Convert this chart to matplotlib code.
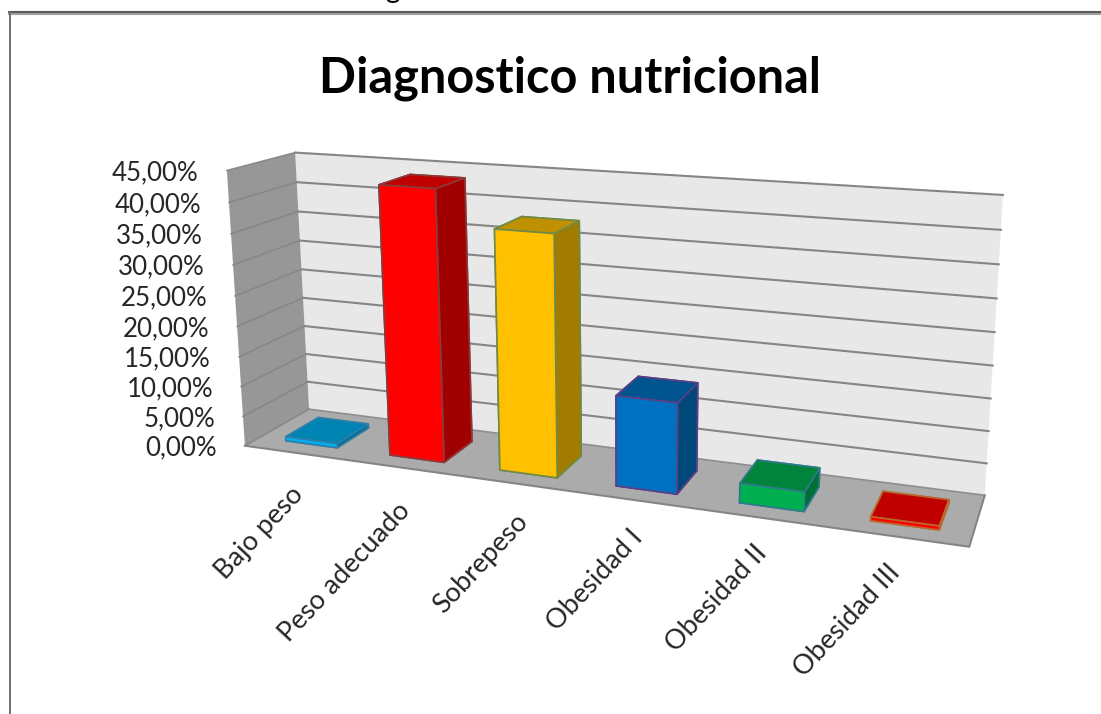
import numpy as np
import matplotlib
matplotlib.use("Agg")
import matplotlib.pyplot as plt
from matplotlib.lines import Line2D
from mpl_toolkits.mplot3d.art3d import Poly3DCollection

W, H = 1101, 714

categories = ["Bajo peso", "Peso adecuado", "Sobrepeso", "Obesidad I", "Obesidad II", "Obesidad III"]
values = [0.7, 43.5, 38.0, 14.2, 3.0, 0.6]
ticks = [0, 5, 10, 15, 20, 25, 30, 35, 40, 45]
tick_labels = ["0,00%", "5,00%", "10,00%", "15,00%", "20,00%", "25,00%", "30,00%", "35,00%", "40,00%", "45,00%"]

front_colors = ["#00B0F0", "#FF0000", "#FFC000", "#0070C0", "#00B050", "#FF0000"]
top_colors = ["#0084B4", "#C00000", "#BF9000", "#005490", "#00843C", "#C00000"]
side_colors = ["#006F97", "#A00000", "#A17C00", "#00477A", "#006F32", "#A00000"]
edge_colors = ["#2F7FA8", "#8A3A3A", "#6F8A45", "#5B3F86", "#2F7A8A", "#B8692E"]

# nudges for the slanted category labels
label_dx = [-6, -6, -1, -6, -9, -11]
label_dy = [-29, -30, -25, -25, -22, -23]

plt.rcParams["font.family"] = ["Lato", "DejaVu Sans"]

# box corners (category, depth, value) and where they land on the canvas
box_pts = np.array([[0, 0, 0], [6, 0, 0], [6, 1, 0], [0, 1, 0], [0, 0, 45], [0, 1, 45], [6, 1, 45]], float)
px_pts = np.array([[245, 446], [969, 547], [985, 495], [309, 409], [227, 170], [295, 153], [1003, 195]], float)


def fit_camera(pts, px):
    rows = []
    for (x, y, z), (u, v) in zip(pts, px):
        v = H - v
        rows.append([x, y, z, 1, 0, 0, 0, 0, -u * x, -u * y, -u * z, -u])
        rows.append([0, 0, 0, 0, x, y, z, 1, -v * x, -v * y, -v * z, -v])
    cam = np.linalg.svd(np.array(rows))[2][-1].reshape(3, 4)
    return cam / (cam[2] @ [3, 0.5, 22, 1])


CAM = fit_camera(box_pts, px_pts)


def project(x, y, z):
    p = CAM @ [x, y, z, 1]
    return p[0] / p[2], p[1] / p[2]


fig = plt.figure(figsize=(W / 100, H / 100), dpi=100)
side = W / H
ax = fig.add_axes([0, (1 - side) / 2, 1, side], projection="3d")
ax.set_proj_type("ortho")
ax.set_axis_off()
ax.computed_zorder = False
ax.patch.set_alpha(0)


def get_proj():
    inv = ax.transData.inverted()
    o = inv.transform((0, 0))
    e = inv.transform((1, 1))
    sx, sy = e - o
    M = np.zeros((4, 4))
    M[0] = sx * CAM[0] + o[0] * CAM[2]
    M[1] = sy * CAM[1] + o[1] * CAM[2]
    M[2] = [-0.1, 1, -0.01, 2]
    M[3] = CAM[2]
    return M


ax.get_proj = get_proj

# walls and floor
back = [[(0, 1, 0), (6, 1, 0), (6, 1, 45), (0, 1, 45)]]
left = [[(0, 0, 0), (0, 1, 0), (0, 1, 45), (0, 0, 45)]]
floor = [[(0, 0, 0), (6, 0, 0), (6, 1, 0), (0, 1, 0)]]
ax.add_collection3d(Poly3DCollection(back, facecolor="#E8E8E8", edgecolor="none", zorder=1))
ax.add_collection3d(Poly3DCollection(left, facecolor="#979797", edgecolor="none", zorder=1))
ax.add_collection3d(Poly3DCollection(floor, facecolor="#ABABAB", edgecolor="none", zorder=1))

for v in ticks:
    if v > 0:
        ax.plot([0, 6], [1, 1], [v, v], color="#858585", lw=1.5, zorder=2)
    ax.plot([0, 0], [0, 1], [v, v], color="#868686", lw=1.1, zorder=2)
ax.plot([0, 6, 6], [0, 0, 1], [0, 0, 0], color="#858585", lw=1.5, zorder=2)
ax.plot([0, 6], [1, 1], [0, 0], color="#8E8E8E", lw=1.2, zorder=2)

# bars
for i, val in enumerate(values):
    faces = [top_colors[i], top_colors[i], front_colors[i], side_colors[i], side_colors[i], side_colors[i]]
    ax.bar3d(i + 0.26, 0.22, 0, 0.5, 0.52, val, color=faces, shade=False,
             edgecolor=edge_colors[i], linewidth=1.2, zorder=3)

ax.set_xlim(0, 6)
ax.set_ylim(0, 1)
ax.set_zlim(0, 45)

# axis labels
for v, s in zip(ticks, tick_labels):
    u, y = project(0, 0, v)
    fig.text(u - 28, y - 2, s, transform=None, ha="right", va="center", fontsize=18.6, color="#262626")

for i, s in enumerate(categories):
    u, y = project(i + 0.5, 0, 0)
    fig.text(u + label_dx[i], y + label_dy[i], s, transform=None, ha="right", va="top", rotation=47,
             rotation_mode="anchor", fontsize=19.5, color="#262626")

fig.text(570 / W, 1 - 78 / H, "Diagnostico nutricional", ha="center", va="center",
         fontsize=35, fontweight="bold", color="black")
fig.text(392 / W, 1 + 2 / H, "g", ha="center", va="baseline", fontsize=20, color="black")

# frame of the sheet
fig.add_artist(Line2D([9 / W, 1], [1 - 12 / H, 1 - 12 / H], color="#5A5A5A", lw=1.5))
fig.add_artist(Line2D([9 / W, 1], [1 - 14 / H, 1 - 14 / H], color="#A0A0A0", lw=1.5))
fig.add_artist(Line2D([10 / W, 10 / W], [1 - 12 / H, 0], color="#707070", lw=1.4))

fig.savefig("out.png", dpi=100)
